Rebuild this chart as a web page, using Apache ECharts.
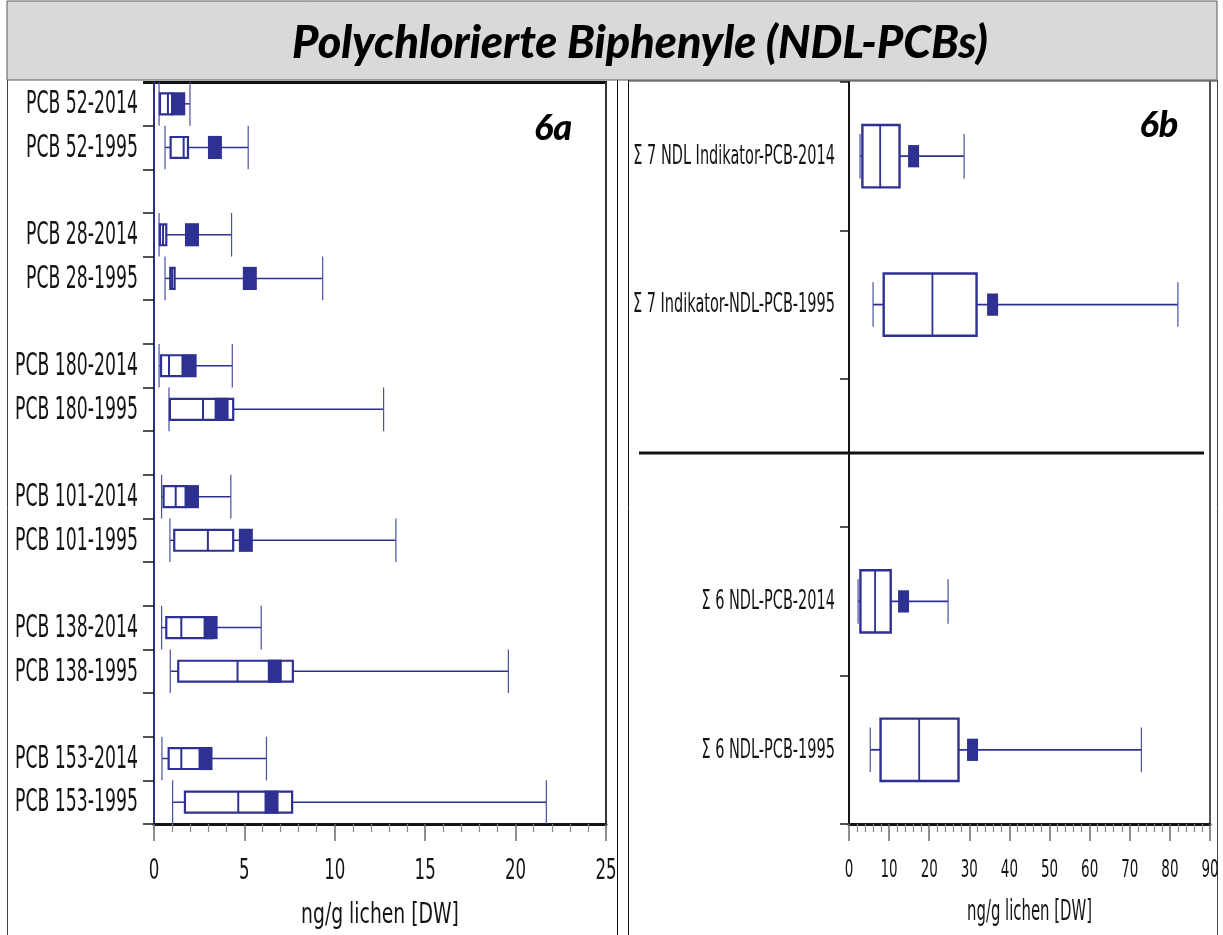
<!DOCTYPE html>
<html>
<head>
<meta charset="utf-8">
<script src="https://cdn.jsdelivr.net/npm/echarts@6/dist/echarts.min.js"></script>
<style>
  html, body { margin: 0; padding: 0; background: #fff; }
  #chart { width: 1223px; height: 935px; }
</style>
</head>
<body>
<div id="chart"></div>
<script>
// Single congeners (panel 6a), ng/g lichen dry weight
const congenerLabels = ['PCB 52-2014', 'PCB 52-1995', 'PCB 28-2014', 'PCB 28-1995',
  'PCB 180-2014', 'PCB 180-1995', 'PCB 101-2014', 'PCB 101-1995',
  'PCB 138-2014', 'PCB 138-1995', 'PCB 153-2014', 'PCB 153-1995'];
const congenerMin    = [0.28, 0.61, 0.28, 0.61, 0.28, 0.83, 0.42, 0.88, 0.42, 0.90, 0.44, 1.03];
const congenerQ1     = [0.33, 0.92, 0.33, 0.90, 0.39, 0.88, 0.53, 1.12, 0.68, 1.34, 0.81, 1.71];
const congenerMedian = [0.77, 1.64, 0.50, 1.00, 0.83, 2.71, 1.20, 2.98, 1.51, 4.62, 1.51, 4.66];
const congenerQ3     = [1.00, 1.88, 0.68, 1.14, 1.58, 4.38, 1.75, 4.38, 3.20, 7.68, 3.00, 7.64];
const congenerMean   = [1.34, 3.37, 2.10, 5.30, 1.97, 3.74, 2.10, 5.08, 3.13, 6.68, 2.85, 6.50];
const congenerMax    = [1.99, 5.21, 4.29, 9.33, 4.33, 12.70, 4.25, 13.38, 5.93, 19.60, 6.22, 21.70];

// Sums of indicator PCBs (panel 6b)
const sumLabels = ['Σ 7 NDL Indikator-PCB-2014', 'Σ 7 Indikator-NDL-PCB-1995',
  'Σ 6 NDL-PCB-2014', 'Σ 6 NDL-PCB-1995'];
const sumMin    = [2.75, 6.0, 2.26, 5.3];
const sumQ1     = [3.34, 8.65, 2.85, 7.87];
const sumMedian = [7.77, 20.8, 6.5, 17.5];
const sumQ3     = [12.6, 31.8, 10.4, 27.3];
const sumMean   = [16.1, 35.8, 13.6, 30.8];
const sumMax    = [28.7, 82.0, 24.7, 72.9];

const congenerTicks = [0, 5, 10, 15, 20, 25];
const sumTicks = [0, 10, 20, 30, 40, 50, 60, 70, 80, 90];
const unitName = 'ng/g lichen [DW]';

const NAVY = '#2e3192';
const NARROW = "'Liberation Sans Narrow', 'DejaVu Sans Condensed', 'Liberation Sans', sans-serif";
const HEAVY = "Lato, 'Open Sans', 'DejaVu Sans', sans-serif";

// Pairs of rows (2014 / 1995) separated by an empty row
function buildSlots(labels) {
  const cats = [], slotOf = [];
  labels.forEach((name, i) => {
    if (i > 0 && i % 2 === 0) cats.push('');
    slotOf.push(cats.length);
    cats.push(name);
  });
  return { cats, slotOf };
}
const left = buildSlots(congenerLabels);
const right = buildSlots(sumLabels);

function rows(slotOf, mn, q1, md, q3, mean, mx) {
  return slotOf.map((s, i) => [s, mn[i], q1[i], md[i], q3[i], mean[i], mx[i]]);
}

function boxRenderer(st) {
  return function (params, api) {
    const slot = api.value(0);
    const mn = api.value(1), q1 = api.value(2), md = api.value(3),
          q3 = api.value(4), mean = api.value(5), mx = api.value(6);
    const band = api.size([0, 1])[1];
    const cy = api.coord([0, slot])[1];
    const X = v => api.coord([v, slot])[0];
    const bh = band * st.boxFrac, ch = band * st.capFrac, mh = band * st.meanFrac;
    const seg = (x1, y1, x2, y2, w, col) => ({
      type: 'line', shape: { x1, y1, x2, y2 },
      style: { stroke: col || NAVY, lineWidth: w }
    });
    return {
      type: 'group',
      children: [
        seg(X(mn), cy, X(q1), cy, st.whisker),
        seg(X(q3), cy, X(mx), cy, st.whisker),
        seg(X(mn), cy - ch / 2, X(mn), cy + ch / 2, 1.2, '#4b4fa3'),
        seg(X(mx), cy - ch / 2, X(mx), cy + ch / 2, 1.2, '#4b4fa3'),
        {
          type: 'rect',
          shape: { x: X(q1), y: cy - bh / 2, width: X(q3) - X(q1), height: bh },
          style: { fill: '#fff', stroke: NAVY, lineWidth: st.box }
        },
        seg(X(md), cy - bh / 2, X(md), cy + bh / 2, st.median),
        {
          type: 'rect',
          shape: { x: X(mean) - st.meanW / 2, y: cy - mh / 2, width: st.meanW, height: mh },
          style: { fill: NAVY }
        }
      ]
    };
  };
}

// Tick marks come from the axis; numbers and names are drawn as condensed text below
function valueAxis(gridIndex, ticks) {
  return {
    gridIndex, type: 'value',
    min: ticks[0], max: ticks[ticks.length - 1], interval: ticks[1] - ticks[0],
    axisLine: { show: true, lineStyle: { color: '#141414', width: 3 } },
    axisTick: { show: true, length: 17, lineStyle: { color: '#6b6b6b', width: 1.5 } },
    minorTick: { show: true, splitNumber: 5, length: 8, lineStyle: { color: '#888', width: 1.2 } },
    splitLine: { show: false },
    axisLabel: { show: false }
  };
}

function categoryAxis(gridIndex, cats, lineColor, tickLen) {
  return {
    gridIndex, type: 'category', data: cats, inverse: true,
    axisLine: { show: true, lineStyle: { color: lineColor, width: 2 } },
    axisTick: { show: true, interval: 0, length: tickLen, lineStyle: { color: '#1a1a1a', width: 1.5 } },
    axisLabel: { show: false },
    splitLine: { show: false }
  };
}

const chart = echarts.init(document.getElementById('chart'), null, { renderer: 'canvas' });

const frame = [
  { type: 'rect', shape: { x: 7, y: 1, width: 1210, height: 79 },
    style: { fill: '#d9d9d9', stroke: '#5a5a5a', lineWidth: 1 }, z: 0 },
  { type: 'text', x: 640, y: 43, z: 5,
    style: { text: 'Polychlorierte Biphenyle (NDL-PCBs)', fill: '#000',
      font: 'italic 900 45px ' + HEAVY, align: 'center', verticalAlign: 'middle' } },
  // outer frame and panel separators
  { type: 'line', shape: { x1: 7.5, y1: 80, x2: 7.5, y2: 935 }, style: { stroke: '#444', lineWidth: 1 } },
  { type: 'line', shape: { x1: 1217.5, y1: 80, x2: 1217.5, y2: 935 }, style: { stroke: '#444', lineWidth: 1 } },
  { type: 'line', shape: { x1: 617.5, y1: 80, x2: 617.5, y2: 935 }, style: { stroke: '#111', lineWidth: 1 } },
  { type: 'line', shape: { x1: 628.5, y1: 80, x2: 628.5, y2: 935 }, style: { stroke: '#111', lineWidth: 1 } },
  // panel 6a border
  { type: 'line', shape: { x1: 143, y1: 82.5, x2: 607, y2: 82.5 }, style: { stroke: '#111', lineWidth: 3 } },
  { type: 'line', shape: { x1: 606, y1: 82, x2: 606, y2: 825 }, style: { stroke: '#333', lineWidth: 2 } },
  // panel 6b border
  { type: 'line', shape: { x1: 628, y1: 81, x2: 1217, y2: 81 }, style: { stroke: '#333', lineWidth: 1 } },
  { type: 'line', shape: { x1: 1210, y1: 81, x2: 1210, y2: 825 }, style: { stroke: '#555', lineWidth: 2 } },
  { type: 'text', x: 553, y: 128, z: 5,
    style: { text: '6a', fill: '#000', font: 'italic 900 36px ' + HEAVY, align: 'center', verticalAlign: 'middle' } },
  { type: 'text', x: 1159, y: 125, z: 5,
    style: { text: '6b', fill: '#000', font: 'italic 900 36px ' + HEAVY, align: 'center', verticalAlign: 'middle' } }
];

const option = {
  backgroundColor: '#fff',
  animation: false,
  grid: [
    { left: 154, top: 82, width: 452, height: 742, outerBoundsMode: 'none', containLabel: false },
    { left: 849, top: 82, width: 361, height: 742, outerBoundsMode: 'none', containLabel: false }
  ],
  xAxis: [valueAxis(0, congenerTicks), valueAxis(1, sumTicks)],
  yAxis: [
    categoryAxis(0, left.cats, '#2b2f85', 11),
    categoryAxis(1, right.cats, '#141414', 9)
  ],
  series: [
    {
      type: 'custom', xAxisIndex: 0, yAxisIndex: 0,
      data: rows(left.slotOf, congenerMin, congenerQ1, congenerMedian, congenerQ3, congenerMean, congenerMax),
      encode: { y: 0, x: [1, 2, 3, 4, 5, 6] },
      renderItem: boxRenderer({ boxFrac: 0.48, capFrac: 1.0, meanFrac: 0.53, meanW: 14, whisker: 1.5, box: 2.2, median: 2 })
    },
    {
      type: 'custom', xAxisIndex: 1, yAxisIndex: 1,
      data: rows(right.slotOf, sumMin, sumQ1, sumMedian, sumQ3, sumMean, sumMax),
      encode: { y: 0, x: [1, 2, 3, 4, 5, 6] },
      renderItem: boxRenderer({ boxFrac: 0.42, capFrac: 0.30, meanFrac: 0.15, meanW: 11, whisker: 1.8, box: 2.4, median: 1.8 })
    }
  ],
  graphic: frame
};

chart.setOption(option);

function condensed(x, y, text, fontPx, squeeze, align) {
  return {
    type: 'text', x, y, scaleX: squeeze, z: 5,
    style: { text, fill: '#141414', font: fontPx + 'px ' + NARROW,
      align, verticalAlign: 'middle' }
  };
}

// Category names at the band centres of each category axis
function categoryTexts(axisIndex, cats, gap, fontPx, squeeze) {
  const axisX = chart.convertToPixel({ xAxisIndex: axisIndex }, 0);
  const out = [];
  cats.forEach((name, i) => {
    if (!name) return;
    const y = chart.convertToPixel({ yAxisIndex: axisIndex }, i);
    out.push(condensed(axisX - gap, y + 1, name, fontPx, squeeze, 'right'));
  });
  return out;
}

// Bottom edge of a panel: last band centre plus half a band
function bottomEdge(axisIndex, cats) {
  const last = chart.convertToPixel({ yAxisIndex: axisIndex }, cats.length - 1);
  const prev = chart.convertToPixel({ yAxisIndex: axisIndex }, cats.length - 2);
  return last + (last - prev) / 2;
}

// Tick numbers under each value axis, plus the centred unit name
function valueTexts(axisIndex, cats, ticks, labelGap, fontPx, squeeze, nameGap, nameFont, nameSqueeze) {
  const axisY = bottomEdge(axisIndex, cats);
  const out = ticks.map(v =>
    condensed(chart.convertToPixel({ xAxisIndex: axisIndex }, v), axisY + labelGap, String(v), fontPx, squeeze, 'center'));
  const x0 = chart.convertToPixel({ xAxisIndex: axisIndex }, ticks[0]);
  const x1 = chart.convertToPixel({ xAxisIndex: axisIndex }, ticks[ticks.length - 1]);
  out.push(condensed((x0 + x1) / 2, axisY + nameGap, unitName, nameFont, nameSqueeze, 'center'));
  return out;
}

// Horizontal divider through the empty row of panel 6b, between the two sums
const gapSlot = right.cats.indexOf('');
const divY = chart.convertToPixel({ yAxisIndex: 1 }, gapSlot);

chart.setOption({
  graphic: frame.concat(
    categoryTexts(0, left.cats, 16, 32, 0.6),
    categoryTexts(1, right.cats, 14, 26, 0.62),
    valueTexts(0, left.cats, congenerTicks, 48, 28, 0.66, 91, 29, 0.72),
    valueTexts(1, right.cats, sumTicks, 46, 25, 0.6, 89, 28, 0.59),
    [{ type: 'line', shape: { x1: 639, y1: divY, x2: 1204, y2: divY }, style: { stroke: '#111', lineWidth: 3 } }]
  )
});
</script>
</body>
</html>
